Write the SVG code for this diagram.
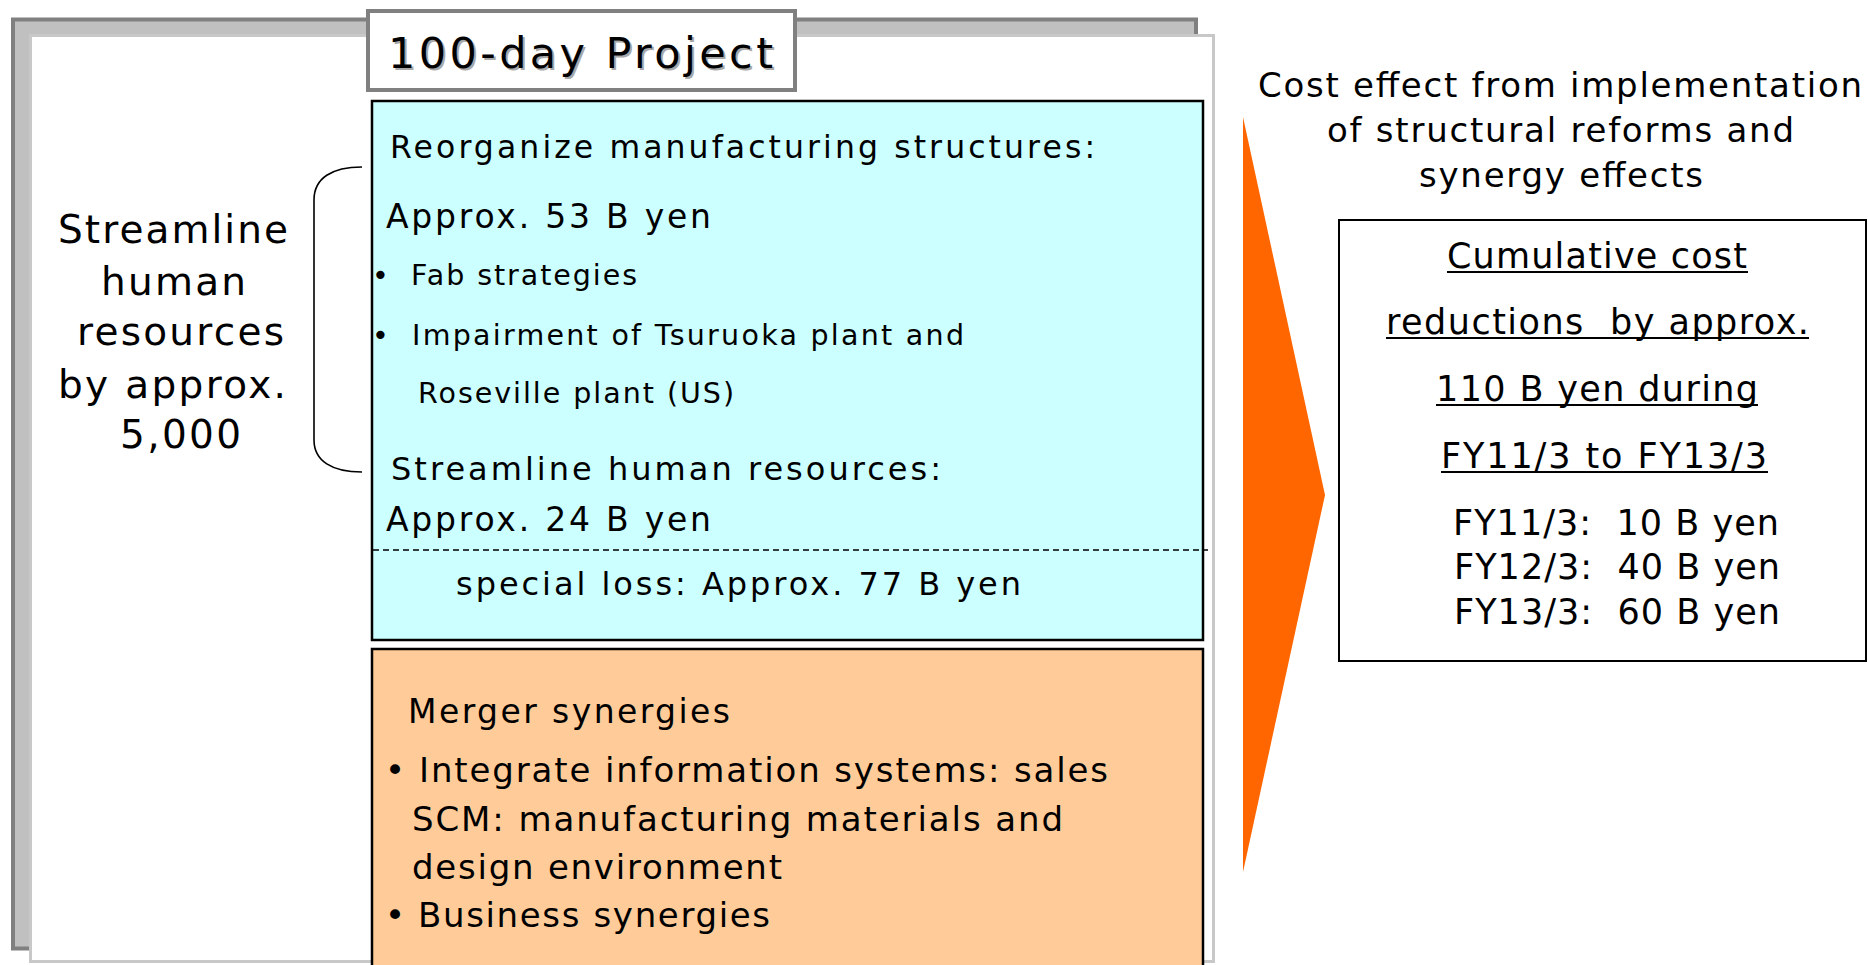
<svg xmlns="http://www.w3.org/2000/svg" width="1868" height="965" viewBox="0 0 1868 965">
  <style>
    text { font-family: "DejaVu Sans", Verdana, sans-serif; fill: #000; }
    .left { font-size: 39px; }
    .c30 { font-size: 31.5px; }
    .c32 { font-size: 33px; }
    .c27 { font-size: 28.5px; }
    .c31 { font-size: 32px; }
    .o33 { font-size: 34px; }
    .head { font-size: 34px; }
    .rb { font-size: 35px; }
    .ul { stroke: #000; stroke-width: 2; }
  </style>

  <!-- Frame with drop shadow -->
  <g id="frame">
    <rect x="13" y="19.5" width="1183" height="929" fill="#C0C0C0" stroke="#808080" stroke-width="4"/>
    <rect x="30.5" y="35.5" width="1183" height="926" fill="#FFFFFF" stroke="#C8C8C8" stroke-width="3"/>
  </g>

  <!-- Title tab -->
  <g id="title">
    <rect x="368" y="11" width="427" height="79" fill="#FFFFFF" stroke="#808080" stroke-width="4"/>
    <text x="390" y="70" font-size="43" style="fill:#A8A8A8" textLength="385" lengthAdjust="spacing">100-day Project</text>
    <text x="388" y="68" font-size="43" textLength="385" lengthAdjust="spacing">100-day Project</text>
  </g>

  <!-- Headcount note -->
  <g id="headcount" class="left">
    <text x="58" y="243" textLength="230" lengthAdjust="spacing">Streamline</text>
    <text x="101" y="295" textLength="145" lengthAdjust="spacing">human</text>
    <text x="77" y="345" textLength="207" lengthAdjust="spacing">resources</text>
    <text x="58" y="398" textLength="228" lengthAdjust="spacing">by approx.</text>
    <text x="120" y="448" textLength="121" lengthAdjust="spacing">5,000</text>
  </g>

  <!-- Structural reform box -->
  <g id="reform">
    <rect x="372" y="101" width="831" height="539" fill="#CCFFFF" stroke="#000" stroke-width="2.5"/>
    <text class="c30" x="390" y="158" textLength="705" lengthAdjust="spacing">Reorganize manufacturing structures:</text>
    <text class="c32" x="386" y="228" textLength="325" lengthAdjust="spacing">Approx. 53 B yen</text>
    <text class="c27" x="372" y="285">•</text>
    <text class="c27" x="411" y="285" textLength="226" lengthAdjust="spacing">Fab strategies</text>
    <text class="c27" x="372" y="345">•</text>
    <text class="c27" x="412" y="345" textLength="552" lengthAdjust="spacing">Impairment of Tsuruoka plant and</text>
    <text class="c27" x="418" y="403" textLength="316" lengthAdjust="spacing">Roseville plant (US)</text>
    <text class="c31" x="391" y="480" textLength="550" lengthAdjust="spacing">Streamline human resources:</text>
    <text class="c32" x="386" y="531" textLength="325" lengthAdjust="spacing">Approx. 24 B yen</text>
    <line x1="373" y1="550" x2="1208" y2="550" stroke="#000" stroke-width="1.5" stroke-dasharray="6 4"/>
    <text class="c31" x="456" y="595" textLength="565" lengthAdjust="spacing">special loss: Approx. 77 B yen</text>
  </g>

  <!-- Merger synergies box -->
  <g id="synergies">
    <rect x="372" y="649" width="831" height="330" fill="#FFCC99" stroke="#000" stroke-width="2.5"/>
    <text class="c32" x="408" y="723" textLength="322" lengthAdjust="spacing">Merger synergies</text>
    <text class="o33" x="385" y="782">•</text>
    <text class="o33" x="419" y="782" textLength="689" lengthAdjust="spacing">Integrate information systems: sales</text>
    <text class="o33" x="412" y="831" textLength="651" lengthAdjust="spacing">SCM: manufacturing materials and</text>
    <text class="o33" x="412" y="879" textLength="370" lengthAdjust="spacing">design environment</text>
    <text class="o33" x="385" y="927">•</text>
    <text class="o33" x="418" y="927" textLength="352" lengthAdjust="spacing">Business synergies</text>
  </g>

  <!-- Bracket grouping the reform items -->
  <g id="connectors">
    <path d="M362,167 C332,167 314,178 314,200 L314,440 C314,461 332,472 362,472" fill="none" stroke="#000" stroke-width="1.6"/>
  </g>

  <!-- Arrow -->
  <g id="arrow">
    <polygon points="1243,117 1325,495 1243,872" fill="#FF6600"/>
  </g>

  <!-- Effect heading -->
  <g id="effect-heading" class="head">
    <text x="1258" y="97" textLength="604" lengthAdjust="spacing">Cost effect from implementation</text>
    <text x="1327" y="142" textLength="467" lengthAdjust="spacing">of structural reforms and</text>
    <text x="1419" y="187" textLength="284" lengthAdjust="spacing">synergy effects</text>
  </g>

  <!-- Cost reduction box -->
  <g id="reduction" class="rb">
    <rect x="1339" y="220" width="527" height="441" fill="#FFFFFF" stroke="#000" stroke-width="2"/>
    <text x="1447" y="268" textLength="300" lengthAdjust="spacing">Cumulative cost</text>
    <line class="ul" x1="1447" y1="272" x2="1748" y2="272"/>
    <text x="1386" y="334" xml:space="preserve" textLength="423" lengthAdjust="spacing">reductions  by approx.</text>
    <line class="ul" x1="1386" y1="338" x2="1809" y2="338"/>
    <text x="1436" y="401" textLength="322" lengthAdjust="spacing">110 B yen during</text>
    <line class="ul" x1="1436" y1="405" x2="1758" y2="405"/>
    <text x="1441" y="468" textLength="326" lengthAdjust="spacing">FY11/3 to FY13/3</text>
    <line class="ul" x1="1441" y1="472" x2="1768" y2="472"/>
    <text x="1453" y="535" xml:space="preserve" textLength="326" lengthAdjust="spacing">FY11/3:  10 B yen</text>
    <text x="1454" y="579" xml:space="preserve" textLength="326" lengthAdjust="spacing">FY12/3:  40 B yen</text>
    <text x="1454" y="624" xml:space="preserve" textLength="326" lengthAdjust="spacing">FY13/3:  60 B yen</text>
  </g>
</svg>
